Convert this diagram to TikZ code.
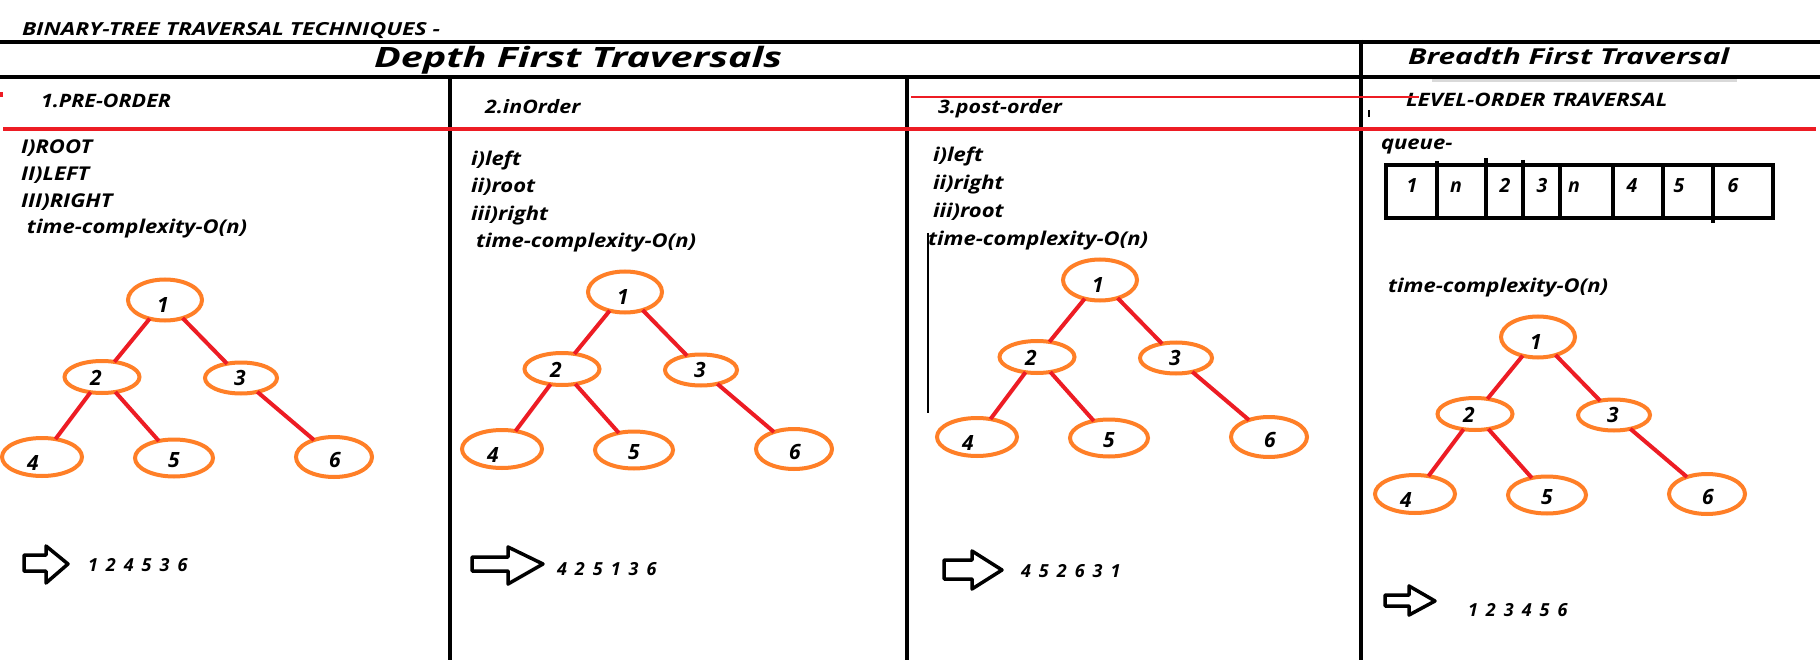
\documentclass[tikz,border=0pt]{standalone}
\usepackage{fontspec}
\setmainfont{Open Sans}
\newfontfamily\widefont{Open Sans}[FakeStretch=1.16]
\usetikzlibrary{shapes.geometric}
\definecolor{pred}{RGB}{237,28,36}
\definecolor{porange}{RGB}{255,127,39}
\newcommand{\fs}[1]{\fontsize{#1}{#1}\selectfont\bfseries\itshape}
\newcommand{\fw}[1]{\widefont\fontsize{#1}{#1}\selectfont\bfseries\itshape}
\newcommand{\wsp}{\spaceskip=8pt\relax}
\tikzset{
  every node/.style={inner sep=0pt, outer sep=0pt},
  blk/.style={line width=4pt, black},
  redl/.style={line width=4pt, pred},
  thinred/.style={line width=1.5pt, pred},
  tnode/.style={ellipse, draw=porange, line width=4pt, inner sep=0pt},
  edge/.style={pred, line width=4pt},
  lbl/.style={font=\fs{21}},
  txt/.style={anchor=base west, font=\fw{19}},
  hdr/.style={anchor=base west, font=\fw{18.5}},
  qtxt/.style={anchor=base, font=\fs{19.5}},
  seq/.style={anchor=west, font=\fs{18}\wsp},
  arrw/.style={line width=3.5pt, black, line join=round},
}
\newcommand{\bintree}[3]{%
  \begin{scope}[shift={(#2,#3)}]
    \node[tnode,minimum width=74pt,minimum height=41pt] (#1n1) at (165,300) {};
    \node[tnode,minimum width=75pt,minimum height=32pt] (#1n2) at (102,377) {};
    \node[tnode,minimum width=72pt,minimum height=31pt] (#1n3) at (241,378) {};
    \node[tnode,minimum width=80pt,minimum height=38pt] (#1n4) at (42,457) {};
    \node[tnode,minimum width=78pt,minimum height=37pt] (#1n5) at (174,458) {};
    \node[tnode,minimum width=76pt,minimum height=40pt] (#1n6) at (334,457) {};
    \node[lbl] (#1t1) at (163,305) {1};
    \node[lbl] (#1t2) at (96,378) {2};
    \node[lbl] (#1t3) at (240,378) {3};
    \node[lbl] (#1t4) at (33,463) {4};
    \node[lbl] (#1t5) at (174,460) {5};
    \node[lbl] (#1t6) at (335,460) {6};
    \draw[edge] (#1n1) -- (#1n2);
    \draw[edge] (#1n1) -- (#1n3);
    \draw[edge] (#1n2) -- (#1n4);
    \draw[edge] (#1n2) -- (#1n5);
    \draw[edge] (#1n3) -- (#1n6);
  \end{scope}}
\begin{document}
\begin{tikzpicture}[x=1pt,y=-1pt]
\useasboundingbox (0,0) rectangle (1820,660);
\fill[white] (0,0) rectangle (1820,660);

% frame lines
\draw[blk] (0,42) -- (1820,42);
\draw[blk] (0,77) -- (1820,77);
\draw[blk] (450,77) -- (450,660);
\draw[blk] (907,77) -- (907,660);
\draw[blk] (1361,40) -- (1361,660);
\draw[gray!30, line width=2.5pt] (1432,80.5) -- (1737,80.5);
\draw[redl] (3,129) -- (1816,129);
\fill[pred] (0,92) rectangle (3,97);
\draw[line width=1.2pt] (928,233) -- (928,413);
\draw[line width=1.2pt] (1369,110) -- (1369,117);

% headings
\node[anchor=base west, font=\fw{18}] (title) at (22,36) {\scalebox{1.1}[1]{BINARY-TREE TRAVERSAL TECHNIQUES -}};
\node[anchor=base west, font=\fw{28}] (dft) at (374,68) {\scalebox{1.22}[1]{Depth First Traversals}};
\node[anchor=base west, font=\fw{22}] (bft) at (1408,65) {\scalebox{1.17}[1]{Breadth First Traversal}};
\node[hdr] (h1) at (41,108) {1.PRE-ORDER};
\node[hdr] (h2) at (485,114) {2.inOrder};
\node[hdr] (h3) at (938,114) {3.post-order};
\node[hdr] (h4) at (1406,107) {\scalebox{1.05}[1]{LEVEL-ORDER TRAVERSAL}};
\draw[thinred] (911,97) -- (1419,97);

% column 1 text
\node[txt] (c1a) at (21,154) {I)ROOT};
\node[txt] (c1b) at (21,181) {II)LEFT};
\node[txt] (c1c) at (21,208) {III)RIGHT};
\node[txt] (c1d) at (27,234) {time-complexity-O(n)};
% column 2 text
\node[txt] (c2a) at (471,166) {i)left};
\node[txt] (c2b) at (471,193) {ii)root};
\node[txt] (c2c) at (471,221) {iii)right};
\node[txt] (c2d) at (476,248) {time-complexity-O(n)};
% column 3 text
\node[txt] (c3a) at (933,162) {i)left};
\node[txt] (c3b) at (933,190) {ii)right};
\node[txt] (c3c) at (933,218) {iii)root};
\node[txt] (c3d) at (928,246) {time-complexity-O(n)};
% column 4 text
\node[txt] (c4a) at (1381,150) {queue-};
\node[txt] (c4d) at (1388,293) {time-complexity-O(n)};

% queue
\draw[blk] (1386,165) rectangle (1773,218);
\draw[blk] (1437,161) -- (1437,218);
\draw[blk] (1486,158) -- (1486,218);
\draw[blk] (1523,160) -- (1523,218);
\draw[blk] (1560,165) -- (1560,218);
\draw[blk] (1613,165) -- (1613,218);
\draw[blk] (1663,165) -- (1663,218);
\draw[blk] (1713,165) -- (1713,223);
\node[qtxt] (q1) at (1412,193) {1};
\node[qtxt] (q2) at (1456,193) {n};
\node[qtxt] (q3) at (1505,193) {2};
\node[qtxt] (q4) at (1542,193) {3};
\node[qtxt] (q5) at (1574,193) {n};
\node[qtxt] (q6) at (1632,193) {4};
\node[qtxt] (q7) at (1679,193) {5};
\node[qtxt] (q8) at (1733,193) {6};

% trees
\bintree{a}{0}{0}
\bintree{b}{460}{-8}
\bintree{c}{935}{-20}
\bintree{d}{1373}{37}

% result arrows
\draw[arrw] (24,555) -- (46,555) -- (46,546) -- (68,564) -- (46,583) -- (46,571) -- (24,571) -- cycle;
\draw[arrw] (472,557) -- (508,557) -- (508,547) -- (543,564) -- (508,584) -- (508,571) -- (472,571) -- cycle;
\draw[arrw] (944,560) -- (972,560) -- (972,551) -- (1002,570) -- (972,589) -- (972,579) -- (944,579) -- cycle;
\draw[arrw] (1385,595) -- (1409,595) -- (1409,586) -- (1435,601) -- (1409,615) -- (1409,606) -- (1385,606) -- cycle;
\node[seq] (s1) at (88,565) {1 2 4 5 3 6};
\node[seq] (s2) at (557,569) {4 2 5 1 3 6};
\node[seq] (s3) at (1021,571) {4 5 2 6 3 1};
\node[seq] (s4) at (1468,610) {1 2 3 4 5 6};
\end{tikzpicture}
\end{document}
